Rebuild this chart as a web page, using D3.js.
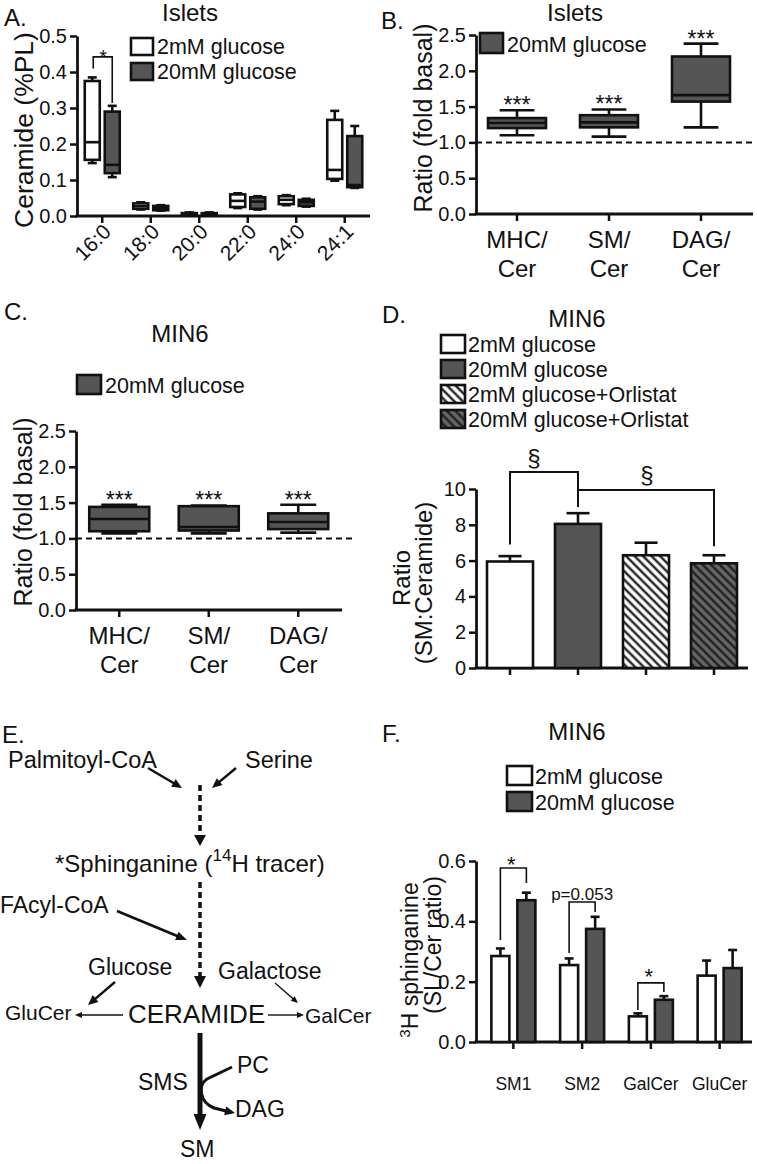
<!DOCTYPE html>
<html>
<head>
<meta charset="utf-8">
<script src="https://cdn.jsdelivr.net/npm/d3@7"></script>
<style>
  body { margin: 0; background: #fff; }
  svg text { font-family: "Liberation Sans", Arial, Helvetica, sans-serif; fill: #111; }
</style>
</head>
<body>
<svg id="fig" width="757" height="1164"></svg>
<script>
// ---------- data ----------
// box stats are [min, q1, median, q3, max]
const catsA = ["16:0", "18:0", "20:0", "22:0", "24:0", "24:1"];
const boxA2mM = [
  [0.147, 0.156, 0.205, 0.375, 0.385],
  [0.018, 0.020, 0.027, 0.035, 0.038],
  [0.001, 0.002, 0.005, 0.008, 0.010],
  [0.022, 0.025, 0.042, 0.060, 0.063],
  [0.030, 0.033, 0.045, 0.055, 0.058],
  [0.098, 0.103, 0.128, 0.267, 0.292]
];
const boxA20mM = [
  [0.108, 0.119, 0.142, 0.290, 0.306],
  [0.015, 0.016, 0.022, 0.028, 0.030],
  [0.001, 0.002, 0.005, 0.008, 0.010],
  [0.018, 0.020, 0.040, 0.052, 0.055],
  [0.026, 0.028, 0.038, 0.045, 0.048],
  [0.078, 0.080, 0.086, 0.222, 0.250]
];
const ticksA = [0, 0.1, 0.2, 0.3, 0.4, 0.5];

const catsB = [["MHC/", "Cer"], ["SM/", "Cer"], ["DAG/", "Cer"]];
const boxB20mM = [
  [1.10, 1.20, 1.27, 1.34, 1.45],
  [1.08, 1.21, 1.28, 1.38, 1.46],
  [1.21, 1.57, 1.66, 2.20, 2.38]
];
const boxC20mM = [
  [1.07, 1.10, 1.27, 1.44, 1.47],
  [1.07, 1.11, 1.16, 1.45, 1.46],
  [1.08, 1.13, 1.23, 1.35, 1.47]
];
const ticksBC = [0, 0.5, 1.0, 1.5, 2.0, 2.5];

const groupsD = ["2mM glucose", "20mM glucose", "2mM glucose+Orlistat", "20mM glucose+Orlistat"];
const meanD = [5.95, 8.05, 6.3, 5.85];
const errD = [0.3, 0.6, 0.7, 0.45];
const ticksD = [0, 2, 4, 6, 8, 10];

const catsF = ["SM1", "SM2", "GalCer", "GluCer"];
const meanF2mM = [0.285, 0.255, 0.085, 0.22];
const errF2mM = [0.025, 0.022, 0.010, 0.05];
const meanF20mM = [0.47, 0.375, 0.14, 0.245];
const errF20mM = [0.025, 0.04, 0.012, 0.06];
const ticksF = [0, 0.2, 0.4, 0.6];

const GRAY = "#555";
const svg = d3.select("#fig");

// hatch patterns for panel D
const defs = svg.append("defs");
function hatch(id, bg, fg) {
  const p = defs.append("pattern").attr("id", id)
    .attr("patternUnits", "userSpaceOnUse").attr("width", 6).attr("height", 6)
    .attr("patternTransform", "rotate(-45)");
  p.append("rect").attr("width", 6).attr("height", 6).attr("fill", bg);
  p.append("line").attr("x1", 1.5).attr("x2", 1.5).attr("y1", 0).attr("y2", 6)
    .attr("stroke", fg).attr("stroke-width", 2.2);
}
hatch("hw", "#fff", "#111");
hatch("hd", "#666", "#1a1a1a");
const fillsD = ["#fff", GRAY, "url(#hw)", "url(#hd)"];

// ---------- helpers ----------
function text(g, x, y, s, size, anchor) {
  return g.append("text").attr("x", x).attr("y", y).attr("text-anchor", anchor || "start")
    .style("font-size", size + "px").text(s);
}
function yAxis(g, y, x, ticks, fmt) {
  const a = g.append("g").attr("transform", `translate(${x},0)`)
    .call(d3.axisLeft(y).tickValues(ticks).tickFormat(fmt).tickSize(7).tickSizeOuter(0).tickPadding(3));
  a.select(".domain").attr("stroke", "#111").attr("stroke-width", 2.8);
  a.selectAll(".tick line").attr("stroke", "#111").attr("stroke-width", 2.5);
  a.selectAll(".tick text").style("font-size", "20px").attr("fill", "#111");
}
function xAxis(g, centers, y, x0, x1) {
  g.append("line").attr("x1", x0 - 1.4).attr("x2", x1).attr("y1", y).attr("y2", y)
    .attr("stroke", "#111").attr("stroke-width", 2.8);
  g.selectAll(null).data(centers).join("line")
    .attr("x1", d => d).attr("x2", d => d).attr("y1", y).attr("y2", y + 7)
    .attr("stroke", "#111").attr("stroke-width", 2.5);
}
function box(g, cx, y, s, w, fill) {
  const [mn, q1, md, q3, mx] = s, cap = w * 0.6;
  const st = l => l.attr("stroke", "#111").attr("stroke-width", 2.6);
  st(g.append("line").attr("x1", cx).attr("x2", cx).attr("y1", y(mx)).attr("y2", y(mn)));
  st(g.append("line").attr("x1", cx - cap / 2).attr("x2", cx + cap / 2).attr("y1", y(mx)).attr("y2", y(mx)));
  st(g.append("line").attr("x1", cx - cap / 2).attr("x2", cx + cap / 2).attr("y1", y(mn)).attr("y2", y(mn)));
  st(g.append("rect").attr("x", cx - w / 2).attr("y", y(q3)).attr("width", w)
    .attr("height", Math.max(0.5, y(q1) - y(q3))).attr("fill", fill));
  st(g.append("line").attr("x1", cx - w / 2).attr("x2", cx + w / 2).attr("y1", y(md)).attr("y2", y(md)));
}
function bar(g, cx, y, v, e, w, fill) {
  const cap = w * 0.5;
  const st = l => l.attr("stroke", "#111").attr("stroke-width", 2.6);
  st(g.append("line").attr("x1", cx).attr("x2", cx).attr("y1", y(v)).attr("y2", y(v + e)));
  st(g.append("line").attr("x1", cx - cap / 2).attr("x2", cx + cap / 2).attr("y1", y(v + e)).attr("y2", y(v + e)));
  st(g.append("rect").attr("x", cx - w / 2).attr("y", y(v)).attr("width", w)
    .attr("height", y(0) - y(v)).attr("fill", fill));
}
function legend(g, x, y, w, h, fill, label, tx) {
  g.append("rect").attr("x", x).attr("y", y).attr("width", w).attr("height", h)
    .attr("fill", fill).attr("stroke", "#111").attr("stroke-width", 2.6);
  text(g, tx, y + h - 1, label, 21.5);
}
function bracket(g, xl, xr, yl, yt, yr, sw) {
  g.append("path").attr("d", `M${xl},${yl}V${yt}H${xr}V${yr}`)
    .attr("fill", "none").attr("stroke", "#111").attr("stroke-width", sw || 1.6);
}
function ylabel(g, x, y, s, size) {
  return g.append("text").attr("transform", `translate(${x},${y}) rotate(-90)`)
    .attr("text-anchor", "middle").style("font-size", size + "px").text(s);
}
const mid = sc => c => sc(c) + sc.bandwidth() / 2;

// ---------- Panel A ----------
const gA = svg.append("g");
const xA = d3.scaleBand().domain(catsA).range([78, 369]);
const yA = d3.scaleLinear().domain([0, 0.5]).range([216, 36]);
const cA = mid(xA);
yAxis(gA, yA, 77, ticksA, d3.format(".1f"));
xAxis(gA, catsA.map(cA), 216, 77, 370);
catsA.forEach((c, i) => {
  box(gA, cA(c) - 10, yA, boxA2mM[i], 15, "#fff");
  box(gA, cA(c) + 10, yA, boxA20mM[i], 15, GRAY);
  gA.append("text").attr("transform", `translate(${cA(c) + 10},${233}) rotate(-45)`)
    .attr("text-anchor", "end").style("font-size", "21px").text(c);
});
bracket(gA, cA(catsA[0]) - 9, cA(catsA[0]) + 10, yA(0.41), yA(0.442), yA(0.314));
text(gA, cA(catsA[0]) + 1, yA(0.442) + 7, "*", 20, "middle");
text(gA, 190, 21, "Islets", 24, "middle");
text(gA, 4, 26, "A.", 24);
ylabel(gA, 33, 130, "Ceramide (%PL)", 26.5);
legend(gA, 131, 38, 22, 17, "#fff", "2mM glucose", 157);
legend(gA, 131, 63, 22, 17, GRAY, "20mM glucose", 157);

// ---------- Panel B ----------
const gB = svg.append("g");
const xB = d3.scaleBand().domain(d3.range(3)).range([471, 747]);
const yB = d3.scaleLinear().domain([0, 2.5]).range([214, 35]);
const cB = mid(xB);
yAxis(gB, yB, 476, ticksBC, d3.format(".1f"));
xAxis(gB, d3.range(3).map(cB), 214, 476, 753);
gB.append("line").attr("x1", 476).attr("x2", 753).attr("y1", yB(1)).attr("y2", yB(1))
  .attr("stroke", "#111").attr("stroke-width", 2).attr("stroke-dasharray", "6,4");
boxB20mM.forEach((s, i) => {
  box(gB, cB(i), yB, s, 58, GRAY);
  text(gB, cB(i), yB(s[4]) + 3, "***", 23, "middle");
  const t = text(gB, cB(i), 248, "", 24, "middle");
  t.append("tspan").attr("x", cB(i)).text(catsB[i][0]);
  t.append("tspan").attr("x", cB(i)).attr("dy", 29).text(catsB[i][1]);
});
text(gB, 575, 21, "Islets", 24, "middle");
text(gB, 381, 29, "B.", 24);
ylabel(gB, 432, 118, "Ratio (fold basal)", 25);
legend(gB, 480, 33, 23, 20, GRAY, "20mM glucose", 507);

// ---------- Panel C ----------
const gC = svg.append("g");
const xC = d3.scaleBand().domain(d3.range(3)).range([74.5, 343]);
const yC = d3.scaleLinear().domain([0, 2.5]).range([610, 431]);
const cC = mid(xC);
yAxis(gC, yC, 76, ticksBC, d3.format(".1f"));
xAxis(gC, d3.range(3).map(cC), 610, 76, 342);
gC.append("line").attr("x1", 76).attr("x2", 356).attr("y1", yC(1)).attr("y2", yC(1))
  .attr("stroke", "#111").attr("stroke-width", 2).attr("stroke-dasharray", "6,4");
boxC20mM.forEach((s, i) => {
  box(gC, cC(i), yC, s, 60, GRAY);
  text(gC, cC(i), yC(s[4]) + 3, "***", 23, "middle");
  const t = text(gC, cC(i), 644, "", 24, "middle");
  t.append("tspan").attr("x", cC(i)).text(catsB[i][0]);
  t.append("tspan").attr("x", cC(i)).attr("dy", 29).text(catsB[i][1]);
});
text(gC, 180, 342, "MIN6", 24, "middle");
text(gC, 4, 320, "C.", 24);
ylabel(gC, 32, 512, "Ratio (fold basal)", 25);
legend(gC, 77, 375, 24, 19, GRAY, "20mM glucose", 105);

// ---------- Panel D ----------
const gD = svg.append("g");
const xD = d3.scaleBand().domain(groupsD).range([476, 748]);
const yD = d3.scaleLinear().domain([0, 10]).range([668, 489]);
const cD = mid(xD);
yAxis(gD, yD, 476, ticksD, d3.format("d"));
xAxis(gD, groupsD.map(cD), 668, 476, 748);
groupsD.forEach((g, i) => bar(gD, cD(g), yD, meanD[i], errD[i], 46, fillsD[i]));
bracket(gD, cD(groupsD[0]), cD(groupsD[1]), yD(6.9), yD(10.95), yD(9.0), 2);
bracket(gD, cD(groupsD[1]), cD(groupsD[3]), yD(9.0), yD(9.95), yD(6.8), 2);
text(gD, (cD(groupsD[0]) + cD(groupsD[1])) / 2 - 10, yD(10.95) - 6, "§", 24, "middle");
text(gD, (cD(groupsD[1]) + cD(groupsD[3])) / 2 + 1, yD(9.95) - 7, "§", 24, "middle");
text(gD, 577, 327, "MIN6", 24, "middle");
text(gD, 382, 323, "D.", 24);
ylabel(gD, 410, 578, "Ratio", 24);
ylabel(gD, 432, 583, "(SM:Ceramide)", 24);
groupsD.forEach((g, i) => legend(gD, 441, 335 + i * 25, 24, 18, fillsD[i], g, 468));

// ---------- Panel F ----------
const gF = svg.append("g");
const xF = d3.scaleBand().domain(catsF).range([479, 754]);
const yF = d3.scaleLinear().domain([0, 0.6]).range([1042, 861]);
const cF = mid(xF);
yAxis(gF, yF, 476, ticksF, d3.format(".1f"));
xAxis(gF, catsF.map(cF), 1042, 476, 752);
catsF.forEach((c, i) => {
  bar(gF, cF(c) - 13, yF, meanF2mM[i], errF2mM[i], 18, "#fff");
  bar(gF, cF(c) + 13, yF, meanF20mM[i], errF20mM[i], 18, GRAY);
  text(gF, cF(c), 1090, c, 17.5, "middle");
});
bracket(gF, cF("SM1") - 13, cF("SM1") + 13, yF(0.338), yF(0.577), yF(0.527));
text(gF, cF("SM1") - 2, yF(0.577) + 4.5, "*", 22, "middle");
bracket(gF, cF("SM2") - 13, cF("SM2") + 13, yF(0.295), yF(0.464), yF(0.431));
text(gF, cF("SM2"), yF(0.464) - 2, "p=0.053", 17, "middle");
bracket(gF, cF("GalCer") - 13, cF("GalCer") + 13, yF(0.106), yF(0.196), yF(0.166));
text(gF, cF("GalCer") - 2, yF(0.196) + 1.5, "*", 22, "middle");
text(gF, 577, 740, "MIN6", 24, "middle");
text(gF, 382, 742, "F.", 24);
const l1 = gF.append("text").attr("transform", "translate(418,960) rotate(-90)")
  .attr("text-anchor", "middle").style("font-size", "23px");
l1.append("tspan").style("font-size", "15px").attr("dy", -8).text("3");
l1.append("tspan").attr("dy", 8).text("H sphinganine");
ylabel(gF, 441, 945, "(SL/Cer ratio)", 23);
legend(gF, 507, 766, 25, 19, "#fff", "2mM glucose", 535);
legend(gF, 507, 792, 25, 19, GRAY, "20mM glucose", 535);

// ---------- Panel E (pathway diagram) ----------
const gE = svg.append("g");
function arrow(x1, y1, x2, y2, sw, L, W, dash) {
  const dx = x2 - x1, dy = y2 - y1, len = Math.hypot(dx, dy), ux = dx / len, uy = dy / len;
  const bx = x2 - ux * L, by = y2 - uy * L;
  const ln = gE.append("line").attr("x1", x1).attr("y1", y1)
    .attr("x2", x2 - ux * L * 0.6).attr("y2", y2 - uy * L * 0.6)
    .attr("stroke", "#111").attr("stroke-width", sw);
  if (dash) ln.attr("stroke-dasharray", dash);
  gE.append("path").attr("fill", "#111")
    .attr("d", `M${x2},${y2}L${bx - uy * W / 2},${by + ux * W / 2}L${bx + uy * W / 2},${by - ux * W / 2}Z`);
}
text(gE, 2, 743, "E.", 24);
text(gE, 8, 768, "Palmitoyl-CoA", 23.5);
text(gE, 245, 768, "Serine", 23.5);
arrow(148, 768, 182, 788, 2.5, 10, 9);
arrow(236, 768, 212, 788, 2.5, 10, 9);
arrow(200, 785, 200, 846, 3.5, 11, 12, "6,4");
const sph = text(gE, 55, 872, "*Sphinganine (", 24);
sph.append("tspan").style("font-size", "17px").attr("dy", -11).text("14");
sph.append("tspan").attr("dy", 11).text("H tracer)");
arrow(200, 882, 200, 988, 3.5, 12, 12, "6,4");
text(gE, 0, 913, "FAcyl-CoA", 23);
arrow(117, 911, 187, 940, 2.6, 11, 9);
text(gE, 88, 975, "Glucose", 23);
text(gE, 218, 979, "Galactose", 23);
arrow(115, 982, 88, 1005, 2.4, 10, 9);
arrow(275, 983, 298, 1003, 1.4, 7, 6);
text(gE, 128, 1023, "CERAMIDE", 26);
text(gE, 5, 1020, "GluCer", 21);
text(gE, 305, 1023, "GalCer", 21);
arrow(123, 1015, 75, 1015, 1.4, 7, 6);
arrow(268, 1015, 304, 1015, 1.4, 7, 6);
arrow(200, 1033, 200, 1130, 5, 16, 13);
gE.append("path").attr("d", "M232,1067L207,1079C198,1085 199,1102 214,1108L226,1111")
  .attr("fill", "none").attr("stroke", "#111").attr("stroke-width", 3);
arrow(224, 1110.5, 235, 1113, 3, 10, 9);
text(gE, 237, 1073, "PC", 23);
text(gE, 138, 1090, "SMS", 23);
text(gE, 235, 1117, "DAG", 23);
text(gE, 180, 1157, "SM", 23);
</script>
</body>
</html>
